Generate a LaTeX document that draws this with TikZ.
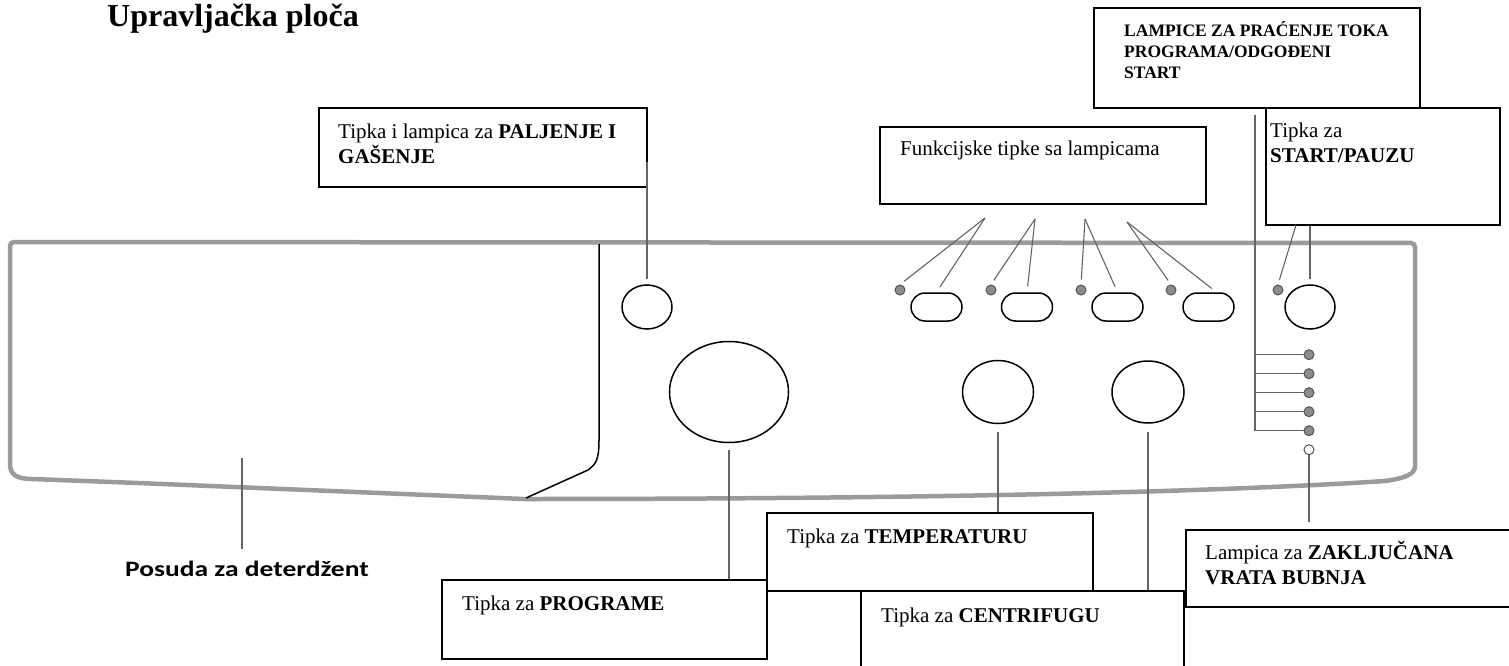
\documentclass[tikz,border=0pt]{standalone}
\usepackage{fontspec}
\setmainfont{Liberation Serif}
\newfontfamily\calfont{Carlito}
\usetikzlibrary{shapes.geometric, shapes.misc, calc}
\definecolor{panelgray}{RGB}{155,155,155}
\definecolor{leadgray}{RGB}{100,100,100}
\definecolor{ledfill}{RGB}{140,140,140}
\definecolor{ledline}{RGB}{85,85,85}
\newcommand{\bodyfont}{\fontsize{21}{25}\selectfont}
\tikzset{%
	tagbox/.style={draw, line width=1.8pt, fill=white, anchor=north west, inner sep=0pt},
	tagtext/.style={anchor=north west, inner xsep=20pt, inner ysep=16.6pt, align=left, font=\bodyfont},
	panel/.style={draw=panelgray, line width=4.5pt},
	knob/.style={draw, ellipse, line width=1.5pt, inner sep=0pt},
	pill/.style={draw, rounded rectangle, line width=1.5pt, minimum width=51pt,%
		minimum height=28pt, inner sep=0pt},
	led/.style={draw=ledline, fill=ledfill, circle, line width=1pt, minimum size=10pt, inner sep=0pt},
	lead/.style={draw=leadgray, line width=1.1pt}
}

\begin{document}
\begin{tikzpicture}[x=1pt, y=-1pt]
	\useasboundingbox (0,0) rectangle (1509,666);

	% panel and dispenser
	\draw[panel] (10,464) [rounded corners=4pt] -- (10,242) -- (1415,243) -- (1415,462) [sharp corners]
		.. controls (1415,474) and (1406,478) .. (1385,481)
		.. controls (1200,493) and (900,499) .. (524,499)
		-- (138,483) -- (32,479)
		.. controls (16,479) and (10,474) .. (10,464);
	\draw[line width=1.5pt] (599,244) -- (599,440) .. controls (599,460) and (596,464) .. (588,470) -- (526,498);

	\node[font=\fontsize{32}{38}\selectfont\bfseries, anchor=base west, inner sep=0pt] (title) at (107,27) {Upravljačka ploča};

	% buttons and knobs
	\node[knob, minimum width=50pt, minimum height=44pt]   (bpow)   at (647,307)  {};
	\node[knob, minimum width=119pt, minimum height=101pt] (kprog)  at (729,392)  {};
	\node[knob, minimum width=71pt, minimum height=63pt]   (ktemp)  at (998,392)  {};
	\node[knob, minimum width=72pt, minimum height=62pt]   (kcent)  at (1148,392) {};
	\node[knob, minimum width=50pt, minimum height=44pt]   (bstart) at (1310,307) {};

	\node[pill] (f1) at (936.5,307)  {};
	\node[pill] (f2) at (1027,307)   {};
	\node[pill] (f3) at (1117.5,307) {};
	\node[pill] (f4) at (1208.5,307) {};

	\node[led] (l1) at (900,290)  {};
	\node[led] (l2) at (991,290)  {};
	\node[led] (l3) at (1081,290) {};
	\node[led] (l4) at (1171,290) {};
	\node[led] (l5) at (1278,290) {};

	\node[led] (c1) at (1309,354.7) {};
	\node[led] (c2) at (1309,373.7) {};
	\node[led] (c3) at (1309,392.7) {};
	\node[led] (c4) at (1309,411.7) {};
	\node[led] (c5) at (1309,430.7) {};
	\node[led, fill=white] (c6) at (1309,449.7) {};

	% label boxes
	\node[tagbox, minimum width=328pt, minimum height=79pt,
		label={[tagtext]north west:{Tipka i lampica za \textbf{PALJENJE I}\\\textbf{GAŠENJE}}}] (tpalj) at (318,107) {};
	\node[tagbox, minimum width=326pt, minimum height=77pt,
		label={[tagtext, inner xsep=21pt, inner ysep=14.6pt]north west:{Funkcijske tipke sa lampicama}}] (tfunk) at (879,126) {};
	\node[tagbox, minimum width=326pt, minimum height=100pt,
		label={[tagtext, inner xsep=31pt, inner ysep=14pt, font=\fontsize{17.5}{21}\selectfont\bfseries]north west:%
		{LAMPICE ZA PRAĆENJE TOKA\\PROGRAMA/ODGOĐENI\\START}}] (tlamp) at (1093,7) {};
	\node[tagbox, minimum width=234pt, minimum height=117pt,
		label={[tagtext, inner xsep=5pt, inner ysep=15.6pt]north west:{Tipka za\\\textbf{START/PAUZU}}}] (tstart) at (1265,107) {};
	\node[tagbox, minimum width=325pt, minimum height=79pt,
		label={[tagtext, inner xsep=21pt]north west:{Tipka za \textbf{PROGRAME}}}] (tprog) at (441,579) {};
	\node[tagbox, minimum width=326pt, minimum height=78pt,
		label={[tagtext, inner xsep=21pt]north west:{Tipka za \textbf{TEMPERATURU}}}] (ttemp) at (766,512) {};
	\node[tagbox, minimum width=323pt, minimum height=90pt,
		label={[tagtext, inner xsep=21pt, inner ysep=17.6pt]north west:{Tipka za \textbf{CENTRIFUGU}}}] (tcent) at (860,590) {};
	\node[tagbox, minimum width=340pt, minimum height=77pt,
		label={[tagtext, inner ysep=12.3pt]north west:{Lampica za \textbf{ZAKLJUČANA}\\\textbf{VRATA BUBNJA}}}] (tzak) at (1185,529) {};

	\node[font=\calfont\fontsize{22}{26}\selectfont\bfseries, anchor=base] (posuda) at (247,576)
		{\scalebox{1.25}[1]{Posuda za deterdžent}};

	% connectors
	\coordinate (powtop) at (647,162);
	\draw[lead, shorten >=5pt] (powtop) -- (bpow.north);

	\coordinate (fa1) at (985,218);
	\coordinate (fa2) at (1035,219);
	\coordinate (fa3) at (1085,219);
	\coordinate (fa4) at (1127,222);
	\draw[lead, shorten >=5pt] (fa1) -- (l1.north);
	\draw[lead, shorten >=6pt] (fa1) -- (f1.north);
	\draw[lead, shorten >=5pt] (fa2) -- (l2.north);
	\draw[lead, shorten >=6pt] (fa2) -- (f2.north);
	\draw[lead, shorten >=5pt] (fa3) -- (l3.north);
	\draw[lead, shorten >=6pt] (fa3) -- (f3.north);
	\draw[lead, shorten >=5pt] (fa4) -- (l4.north);
	\draw[lead, shorten >=6pt] (fa4) -- ([xshift=8pt]f4.north);

	\coordinate (sa1) at (1296,225);
	\draw[lead, shorten >=5pt] (sa1) -- (l5.north);
	\draw[lead, shorten >=5pt] (bstart |- tstart.south) -- (bstart.north);

	\coordinate (lamptop) at (1255,115);
	\draw[lead, line width=1.6pt] (lamptop) -- (lamptop |- c5);
	\draw[lead] (lamptop |- c1) -- (c1);
	\draw[lead] (lamptop |- c2) -- (c2);
	\draw[lead] (lamptop |- c3) -- (c3);
	\draw[lead] (lamptop |- c4) -- (c4);
	\draw[lead] (lamptop |- c5) -- (c5);
	\draw[lead, shorten >=7pt] (c6) -- (c6 |- tzak.north);

	\draw[lead, shorten <=7pt] (kprog.south) -- (kprog.south |- tprog.north);
	\draw[lead, shorten <=8pt] (ktemp.south) -- (ktemp.south |- ttemp.north);
	\draw[lead, shorten <=8pt] (kcent.south) -- (kcent.south |- tcent.north);

	\coordinate (postop) at (242,458);
	\draw[lead, shorten >=8pt] (postop) -- (postop |- posuda.north);
\end{tikzpicture}
\end{document}
